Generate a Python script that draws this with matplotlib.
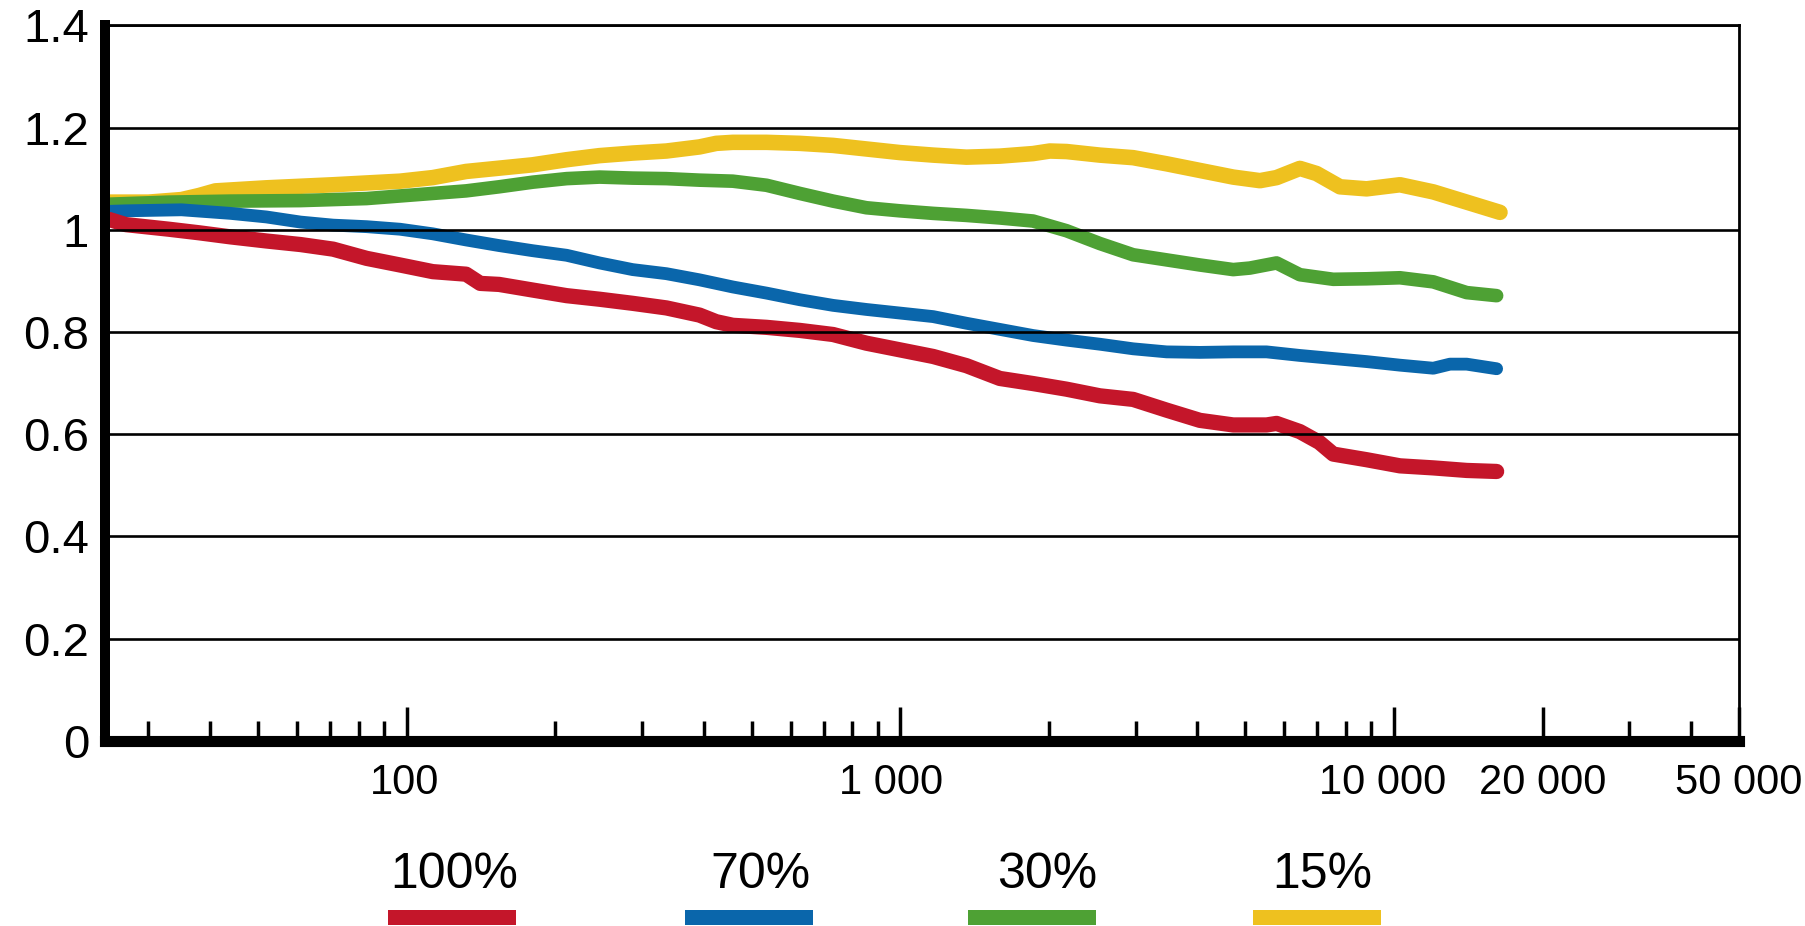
import matplotlib
matplotlib.use("Agg")
import matplotlib.pyplot as plt
from matplotlib.patches import Rectangle
from matplotlib.transforms import ScaledTranslation
from matplotlib.ticker import FixedLocator, FixedFormatter, NullFormatter

plt.rcParams['font.family'] = ['Liberation Sans', 'DejaVu Sans']

# Relative response vs. frequency (Hz) for four levels
freq_100 = [25, 27, 33, 38, 44, 52, 61, 71, 83, 97, 113, 132, 141, 154, 180, 211,
            246, 287, 336, 392, 424, 458, 536, 626, 731, 854, 998, 1166, 1362,
            1591, 1858, 2172, 2537, 2963, 3463, 4045, 4726, 5521, 5785, 6449,
            7060, 7534, 8804, 10284, 12015, 14038, 16144]
val_100 = [1.020, 1.010, 1.001, 0.994, 0.986, 0.978, 0.971, 0.962, 0.944, 0.931,
           0.918, 0.913, 0.895, 0.893, 0.882, 0.871, 0.864, 0.856, 0.847, 0.833,
           0.820, 0.813, 0.809, 0.803, 0.795, 0.778, 0.765, 0.752, 0.734, 0.709,
           0.699, 0.688, 0.675, 0.668, 0.647, 0.627, 0.618, 0.618, 0.621, 0.605,
           0.584, 0.561, 0.550, 0.538, 0.534, 0.529, 0.527]

freq_70 = [25, 27, 35, 44, 52, 61, 71, 83, 97, 113, 132, 154, 180, 211, 246, 287,
           336, 392, 458, 536, 626, 731, 854, 998, 1166, 1362, 1591, 1858, 2172,
           2537, 2963, 3463, 4045, 4726, 5521, 6449, 7534, 8804, 10284, 12015,
           12990, 14038, 16144]
val_70 = [1.036, 1.037, 1.039, 1.032, 1.025, 1.015, 1.009, 1.006, 1.001, 0.992,
          0.980, 0.969, 0.959, 0.950, 0.935, 0.922, 0.914, 0.902, 0.888, 0.876,
          0.863, 0.852, 0.844, 0.837, 0.830, 0.817, 0.805, 0.793, 0.784, 0.776,
          0.767, 0.761, 0.760, 0.761, 0.761, 0.754, 0.748, 0.742, 0.735, 0.729,
          0.737, 0.737, 0.728]

freq_30 = [25, 33, 44, 61, 83, 113, 132, 154, 180, 211, 246, 287, 336, 392, 458,
           536, 626, 731, 854, 998, 1166, 1362, 1591, 1858, 2172, 2537, 2963,
           3463, 4045, 4726, 5107, 5785, 6449, 7534, 8804, 10284, 12015, 14038,
           16144]
val_30 = [1.050, 1.054, 1.056, 1.057, 1.061, 1.071, 1.076, 1.084, 1.093, 1.100,
          1.103, 1.101, 1.100, 1.097, 1.095, 1.087, 1.071, 1.056, 1.043, 1.037,
          1.032, 1.028, 1.023, 1.017, 0.998, 0.973, 0.951, 0.941, 0.931, 0.922,
          0.925, 0.935, 0.912, 0.903, 0.904, 0.906, 0.898, 0.877, 0.871]

freq_15 = [25, 30, 35, 38, 41, 52, 71, 97, 113, 132, 180, 211, 246, 287, 336, 392,
           424, 458, 536, 626, 731, 854, 998, 1166, 1362, 1591, 1858, 2009, 2172,
           2537, 2963, 3463, 4045, 4726, 5353, 5785, 6449, 6970, 7776, 8804,
           10284, 12015, 14038, 16400]
val_15 = [1.054, 1.054, 1.059, 1.067, 1.076, 1.082, 1.088, 1.095, 1.102, 1.114,
          1.127, 1.137, 1.145, 1.150, 1.154, 1.162, 1.169, 1.171, 1.171, 1.169,
          1.165, 1.158, 1.151, 1.146, 1.142, 1.144, 1.149, 1.154, 1.153, 1.146,
          1.141, 1.129, 1.116, 1.103, 1.096, 1.102, 1.120, 1.110, 1.084, 1.080,
          1.088, 1.074, 1.054, 1.034]

series_labels = ["100%", "70%", "30%", "15%"]
series_colors = ["#C4162A", "#0A66AB", "#4EA134", "#EEC11F"]
series_widths = [11.0, 9.2, 9.8, 11.2]

y_ticks = [0, 0.2, 0.4, 0.6, 0.8, 1.0, 1.2, 1.4]
y_tick_labels = ["0", "0.2", "0.4", "0.6", "0.8", "1", "1.2", "1.4"]
x_major = [100, 1000, 10000, 20000, 50000]
x_major_labels = ["100", "1 000", "10 000", "20 000", "50 000"]
x_minor = [30, 40, 50, 60, 70, 80, 90,
           200, 300, 400, 500, 600, 700, 800, 900,
           2000, 3000, 4000, 5000, 6000, 7000, 8000, 9000,
           30000, 40000]
# horizontal nudge (pixels) of each major tick label
x_label_shift = [-2, -9, -11, 0, 0]

W, H = 1806, 926
fig = plt.figure(figsize=(W / 100, H / 100), dpi=100)
ax = fig.add_axes([105 / W, 1 - 740.8 / H, (1739 - 105) / W, (740.8 - 25.3) / H])

ax.set_xscale('log')
ax.set_xlim(24.5, 50000)
ax.set_ylim(0, 1.4)

series = [(freq_100, val_100), (freq_70, val_70), (freq_30, val_30), (freq_15, val_15)]
# draw the quietest level first so the 100% curve sits on top
for i in reversed(range(len(series))):
    f, v = series[i]
    ax.plot(f, v, color=series_colors[i], lw=series_widths[i],
            solid_capstyle='round', solid_joinstyle='round', zorder=2)

ax.set_yticks(y_ticks)
ax.set_yticklabels(y_tick_labels)
ax.yaxis.grid(True, color='black', lw=1.9)
ax.set_axisbelow(False)

ax.xaxis.set_major_locator(FixedLocator(x_major))
ax.xaxis.set_major_formatter(FixedFormatter(x_major_labels))
ax.xaxis.set_minor_locator(FixedLocator(x_minor))
ax.xaxis.set_minor_formatter(NullFormatter())
ax.tick_params(axis='x', which='major', direction='in', length=24.5, width=2.5,
               pad=16, labelsize=30, color='black')
ax.tick_params(axis='x', which='minor', direction='in', length=14.4, width=2.5,
               color='black')
ax.tick_params(axis='y', length=0, pad=11.5, labelsize=34)

ax.spines['left'].set_linewidth(7.2)
ax.spines['bottom'].set_linewidth(8.0)
ax.spines['top'].set_linewidth(2.0)
ax.spines['right'].set_linewidth(2.0)
for s in ax.spines.values():
    s.set_color('black')

fig.canvas.draw()
for tick, dx in zip(ax.xaxis.get_major_ticks(), x_label_shift):
    lbl = tick.label1
    lbl.set_transform(lbl.get_transform() + ScaledTranslation(dx / 100, 0, fig.dpi_scale_trans))

# legend: label above a short colour bar
legend_bar_left = [388, 685, 968, 1253]
legend_text_right = [518, 811, 1097, 1372]
bar_w, bar_top, bar_bottom, text_base = 128, 910, 925, 888
for i, lab in enumerate(series_labels):
    fig.add_artist(Rectangle((legend_bar_left[i] / W, 1 - bar_bottom / H),
                             bar_w / W, (bar_bottom - bar_top) / H,
                             transform=fig.transFigure, color=series_colors[i], lw=0))
    fig.text(legend_text_right[i] / W, 1 - text_base / H, lab, ha='right',
             va='baseline', fontsize=36, color='black')

fig.savefig("out.png", dpi=100, facecolor='white')
